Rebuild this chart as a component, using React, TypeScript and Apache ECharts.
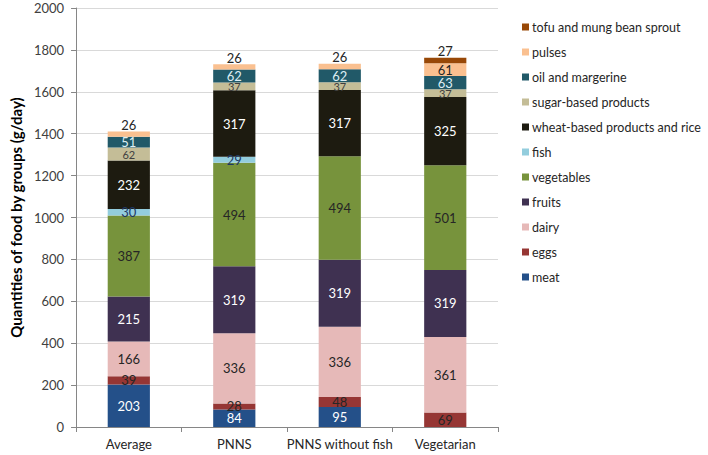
import React, { useEffect, useRef } from "react";
import * as echarts from "echarts";

const categories = ["Average", "PNNS", "PNNS without fish", "Vegetarian"];
const meat = [203, 84, 95, 0];
const eggs = [39, 28, 48, 69];
const dairy = [166, 336, 336, 361];
const fruits = [215, 319, 319, 319];
const vegetables = [387, 494, 494, 501];
const fish = [30, 29, 0, 0];
const wheat = [232, 317, 317, 325];
const sugar = [62, 37, 37, 37];
const oil = [51, 62, 62, 63];
const pulses = [26, 26, 26, 61];
const tofu = [0, 0, 0, 27];

const seriesNames = [
  "meat",
  "eggs",
  "dairy",
  "fruits",
  "vegetables",
  "fish",
  "wheat-based products and rice",
  "sugar-based products",
  "oil and margerine",
  "pulses",
  "tofu and mung bean sprout",
];
const seriesData = [meat, eggs, dairy, fruits, vegetables, fish, wheat, sugar, oil, pulses, tofu];
const colors = [
  "#245089",
  "#963634",
  "#E6B9B8",
  "#3F3151",
  "#77933C",
  "#93CDDD",
  "#1D1B10",
  "#C4BD97",
  "#215968",
  "#FAC090",
  "#984807",
];
const labelColors = [
  "#ffffff",
  "#262626",
  "#262626",
  "#ffffff",
  "#262626",
  "#1F3864",
  "#ffffff",
  "#404040",
  "#DDEEF4",
  "#262626",
  "#262626",
];

const FONT = "Lato, 'Open Sans', sans-serif";

export default function App() {
  const ref = useRef<HTMLDivElement>(null);
  useEffect(() => {
    if (!ref.current) return;
    const chart = echarts.init(ref.current, undefined, { renderer: "svg" });
    const series = seriesNames.map((name, i) => ({
      name,
      type: "bar",
      stack: "total",
      barCategoryGap: "60%",
      itemStyle: { color: colors[i] },
      data: seriesData[i].map((v) => {
        const small = (i === 9 && v < 40) || i === 10;
        return {
          value: v,
          label: {
            show: v > 0,
            position: small ? "top" : "inside",
            distance: small ? 0 : 5,
            color: labelColors[i],
            fontSize: i === 7 ? 11 : 13,
            fontFamily: FONT,
          },
        };
      }),
    }));
    chart.setOption({
      animation: false,
      textStyle: { fontFamily: FONT },
      grid: { left: 65, right: 210, top: 8, bottom: 28, containLabel: false },
      legend: {
        orient: "vertical",
        left: 517,
        top: 14,
        icon: "rect",
        itemWidth: 7,
        itemHeight: 7,
        itemGap: 9,
        data: [...seriesNames].reverse(),
        textStyle: {
          fontSize: 12.5,
          lineHeight: 16,
          color: "#262626",
          fontFamily: FONT,
          padding: [0, 0, 0, -2],
        },
      },
      xAxis: {
        type: "category",
        data: categories,
        axisLine: { lineStyle: { color: "#868686" } },
        axisTick: { show: true, length: 5, lineStyle: { color: "#868686" } },
        axisLabel: { color: "#262626", fontSize: 13, margin: 10, interval: 0, fontFamily: FONT },
      },
      yAxis: {
        type: "value",
        min: 0,
        max: 2000,
        interval: 200,
        name: "Quantities of food by groups (g/day)",
        nameLocation: "middle",
        nameGap: 44,
        nameTextStyle: { fontSize: 15, fontWeight: "bold", color: "#000000", fontFamily: FONT },
        axisLine: { show: true, lineStyle: { color: "#868686" } },
        axisTick: { show: true, length: 5, lineStyle: { color: "#868686" } },
        axisLabel: {
          color: "#404040",
          fontSize: 13,
          margin: 12,
          fontFamily: FONT,
          formatter: (v: number) => String(v),
        },
        splitLine: { lineStyle: { color: "#D9D9D9" } },
      },
      series,
    });
    return () => chart.dispose();
  }, []);
  return <div ref={ref} style={{ width: 708, height: 455, position: "absolute", left: 0, top: 0 }} />;
}
